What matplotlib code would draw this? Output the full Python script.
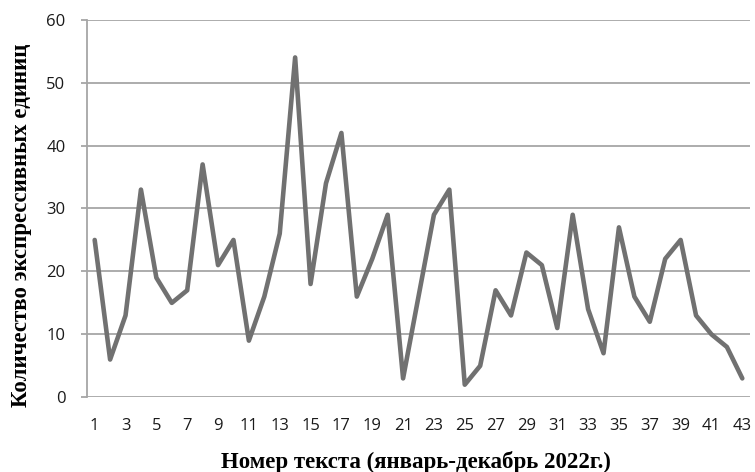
import numpy as np
import matplotlib
matplotlib.use("Agg")
import matplotlib.pyplot as plt

# данные: номер текста и количество экспрессивных единиц
text_numbers = list(range(1, 44))
counts = [25, 6, 13, 33, 19, 15, 17, 37, 21, 25,
          9, 16, 26, 54, 18, 34, 42, 16, 22, 29,
          3, 16, 29, 33, 2, 5, 17, 13, 23, 21,
          11, 29, 14, 7, 27, 16, 12, 22, 25, 13,
          10, 8, 3]
y_ticks = [0, 10, 20, 30, 40, 50, 60]
x_tick_labels = [str(n) for n in text_numbers[::2]]

plt.rcParams["font.family"] = ["Open Sans", "DejaVu Sans"]

fig = plt.figure(figsize=(7.55, 4.72), dpi=100)
ax = fig.add_axes([0.1152, 0.1583, 0.8782, 0.8])

ax.plot(text_numbers, counts, color="#717171", linewidth=3.3,
        solid_joinstyle="round", solid_capstyle="round", zorder=3)

ax.set_xlim(0.5, 43.5)
ax.set_ylim(0, 60)
ax.set_yticks(y_ticks)
ax.set_xticks(text_numbers[::2])
ax.set_xticklabels(x_tick_labels)

# сетка
ax.grid(axis="y", color="#a6a6a6", linewidth=1.3, zorder=1)
ax.set_axisbelow(True)

for side in ["top", "right", "bottom"]:
    ax.spines[side].set_visible(False)
ax.spines["left"].set_color("#a6a6a6")
ax.spines["left"].set_linewidth(1.3)

ax.tick_params(axis="y", length=4.5, width=1.3, color="#a6a6a6",
               labelsize=12, labelcolor="#1a1a1a", pad=11)
ax.tick_params(axis="x", length=0, labelsize=12, labelcolor="#1a1a1a", pad=15)

# подписи осей
fig.text(0.5503, 0.021, "Номер текста (январь-декабрь 2022г.)",
         family="Liberation Serif", fontweight="bold", fontsize=16.5,
         ha="center", va="center")
fig.text(0.029, 0.523, "Количество экспрессивных единиц",
         family="Liberation Serif", fontweight="bold", fontsize=16.5,
         ha="center", va="center", rotation=90)

fig.savefig("out.png", dpi=100)
